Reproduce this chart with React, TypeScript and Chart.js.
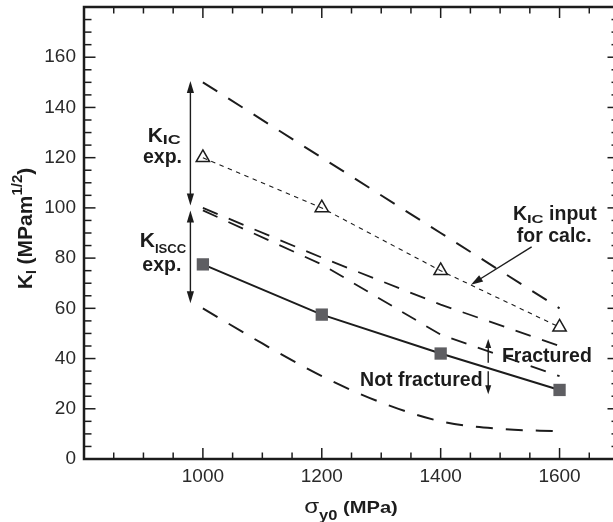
import React, { useEffect, useRef } from "react";
import { Chart, registerables } from "chart.js";

Chart.register(...registerables);

// ---- data ----
const SIGMA_Y0 = [1000, 1200, 1400, 1600];
const KIC_UPPER = [150, 120, 90, 60];
const KIC_INPUT = [120, 100, 75, 52.5];
const KISCC_CALC_A = [100, 80.2, 61.5, 45];
const KISCC_CALC_B = [99, 77.5, 49.5, 33];
const KISCC_EXP = [77.5, 57.5, 42, 27.5];
const LOWER_X = [1000, 1100, 1200, 1300, 1400, 1500, 1600];
const LOWER_BOUND = [60, 46, 33, 22.5, 15, 12, 11];

const X_TICK_LABELS = [1000, 1200, 1400, 1600];
const Y_TICK_LABELS = [0, 20, 40, 60, 80, 100, 120, 140, 160];
const X_RANGE = [800, 1700];
const Y_RANGE = [0, 180];
const X_MAJOR = 200;
const X_MINOR = 50;
const Y_MAJOR = 20;
const Y_MINOR = 5;

// annotations in data coordinates
const RANGE_ARROWS = [
  { x: 979, y1: 150.5, y2: 101 },
  { x: 979, y1: 99, y2: 62 },
];
const SMALL_ARROWS = [
  { x: 1480, from: 38.3, to: 47.8 },
  { x: 1480, from: 34.9, to: 25.8 },
];
const POINTER = { x1: 1553, y1: 84.5, x2: 1451, y2: 69.4 };

const FONT = '"Liberation Sans", Arial, Helvetica, sans-serif';
const INK = "#1c1c1c";

type Seg = { t: string; size: number; bold?: boolean; dy?: number; sx?: number; family?: string };

const LABELS: { segs: Seg[]; x: number; y: number; align: "left" | "center" | "right" }[] = [
  { segs: [{ t: "K", size: 21 }, { t: "IC", size: 12, dy: 2.5, sx: 1.5 }], x: 935, y: 126.3, align: "center" },
  { segs: [{ t: "exp.", size: 19.5 }], x: 932, y: 118, align: "center" },
  { segs: [{ t: "K", size: 21 }, { t: "ISCC", size: 12.5, dy: 6, sx: 1.05 }], x: 933, y: 84.5, align: "center" },
  { segs: [{ t: "exp.", size: 19.5 }], x: 931, y: 74.7, align: "center" },
  {
    segs: [{ t: "K", size: 19.5 }, { t: "IC", size: 11.5, dy: 3, sx: 1.45 }, { t: " input", size: 19.5 }],
    x: 1592, y: 95.2, align: "center",
  },
  { segs: [{ t: "for calc.", size: 19.5 }], x: 1591, y: 86.6, align: "center" },
  { segs: [{ t: "Fractured", size: 19.5 }], x: 1503, y: 38.5, align: "left" },
  { segs: [{ t: "Not fractured", size: 19.5 }], x: 1264.5, y: 28.9, align: "left" },
];

function segFont(s: Seg) {
  return `${s.bold === false ? "" : "bold "}${s.size}px ${s.family || FONT}`;
}

function drawRich(ctx: CanvasRenderingContext2D, segs: Seg[], x: number, y: number, align: string) {
  let total = 0;
  const widths = segs.map((s) => {
    ctx.font = segFont(s);
    const w = ctx.measureText(s.t).width * (s.sx || 1);
    total += w;
    return w;
  });
  let cx = align === "center" ? x - total / 2 : align === "right" ? x - total : x;
  segs.forEach((s, i) => {
    ctx.save();
    ctx.font = segFont(s);
    ctx.textAlign = "left";
    ctx.textBaseline = "alphabetic";
    ctx.translate(cx, y + (s.dy || 0));
    ctx.scale(s.sx || 1, 1);
    ctx.fillText(s.t, 0, 0);
    ctx.restore();
    cx += widths[i];
  });
}

function arrowHead(ctx: CanvasRenderingContext2D, x: number, y: number, ang: number, len: number, hw: number) {
  const c = Math.cos(ang);
  const s = Math.sin(ang);
  ctx.beginPath();
  ctx.moveTo(x, y);
  ctx.lineTo(x - len * c + hw * s, y - len * s - hw * c);
  ctx.lineTo(x - len * c - hw * s, y - len * s + hw * c);
  ctx.closePath();
  ctx.fill();
}

function arrow(
  ctx: CanvasRenderingContext2D,
  x1: number, y1: number, x2: number, y2: number,
  len: number, hw: number, both: boolean
) {
  const ang = Math.atan2(y2 - y1, x2 - x1);
  const c = Math.cos(ang);
  const s = Math.sin(ang);
  ctx.beginPath();
  ctx.moveTo(both ? x1 + c * len * 0.7 : x1, both ? y1 + s * len * 0.7 : y1);
  ctx.lineTo(x2 - c * len * 0.7, y2 - s * len * 0.7);
  ctx.stroke();
  arrowHead(ctx, x2, y2, ang, len, hw);
  if (both) arrowHead(ctx, x1, y1, ang + Math.PI, len, hw);
}

const decorPlugin = {
  id: "decor",
  afterDraw(chart: any) {
    const ctx: CanvasRenderingContext2D = chart.ctx;
    const xs = chart.scales.x;
    const ys = chart.scales.y;
    const { left, right, top, bottom } = chart.chartArea;
    ctx.save();
    ctx.strokeStyle = INK;
    ctx.fillStyle = INK;
    ctx.setLineDash([]);

    // inward ticks
    ctx.lineWidth = 1.5;
    const seg = (a: number, b: number, c: number, d: number) => {
      ctx.beginPath();
      ctx.moveTo(a, b);
      ctx.lineTo(c, d);
      ctx.stroke();
    };
    for (let v = xs.min + X_MINOR; v < xs.max - 1e-6; v += X_MINOR) {
      const px = xs.getPixelForValue(v);
      const major = Math.abs(v % X_MAJOR) < 1e-6;
      const L = major ? 11 : 6.5;
      seg(px, bottom, px, bottom - L);
      seg(px, top, px, top + L);
    }
    for (let v = ys.min + Y_MINOR; v < ys.max - 1e-6; v += Y_MINOR) {
      const py = ys.getPixelForValue(v);
      const major = Math.abs(v % Y_MAJOR) < 1e-6;
      const L = major ? 11.5 : 7.5;
      seg(left, py, left + L, py);
      seg(right, py, right - L, py);
    }

    // frame
    ctx.lineWidth = 2.5;
    ctx.strokeRect(left, top, right - left, bottom - top);

    // annotations
    ctx.lineWidth = 1.4;
    RANGE_ARROWS.forEach((a) => {
      const px = xs.getPixelForValue(a.x);
      arrow(ctx, px, ys.getPixelForValue(a.y2), px, ys.getPixelForValue(a.y1), 12, 3.6, true);
    });
    SMALL_ARROWS.forEach((a) => {
      const px = xs.getPixelForValue(a.x);
      arrow(ctx, px, ys.getPixelForValue(a.from), px, ys.getPixelForValue(a.to), 9, 3, false);
    });
    arrow(
      ctx,
      xs.getPixelForValue(POINTER.x1), ys.getPixelForValue(POINTER.y1),
      xs.getPixelForValue(POINTER.x2), ys.getPixelForValue(POINTER.y2),
      12, 3.8, false
    );

    LABELS.forEach((l) => {
      drawRich(ctx, l.segs, xs.getPixelForValue(l.x), ys.getPixelForValue(l.y), l.align);
    });

    // axis titles
    const midY = (top + bottom) / 2 - 4.5;
    ctx.save();
    ctx.translate(31.7, midY);
    ctx.rotate(-Math.PI / 2);
    drawRich(
      ctx,
      [
        { t: "K", size: 21 },
        { t: "I", size: 14, dy: 4 },
        { t: " (MPam", size: 21 },
        { t: "1/2", size: 15, dy: -10 },
        { t: ")", size: 21 },
      ],
      0, 0, "center"
    );
    ctx.restore();

    drawRich(
      ctx,
      [
        { t: "σ", size: 21, bold: false, sx: 1.15 },
        { t: "y0", size: 15, dy: 7, sx: 1.1 },
        { t: " (MPa)", size: 16.5, sx: 1.22 },
      ],
      (left + right) / 2 - 0.5, 513.3, "center"
    );

    ctx.restore();
  },
};

function pts(xsArr: number[], ysArr: number[]) {
  return xsArr.map((x, i) => ({ x, y: ysArr[i] }));
}

export default function App() {
  const ref = useRef<HTMLCanvasElement>(null);

  useEffect(() => {
    if (!ref.current) return;
    const lineBase = { pointRadius: 0, borderColor: INK, fill: false, tension: 0 };
    const chart = new Chart(ref.current, {
      type: "line",
      data: {
        datasets: [
          { ...lineBase, data: pts(SIGMA_Y0, KIC_UPPER), borderWidth: 2, borderDash: [17, 13] },
          { ...lineBase, data: pts(SIGMA_Y0, KISCC_CALC_A), borderWidth: 1.8, borderDash: [16, 12] },
          { ...lineBase, data: pts(SIGMA_Y0, KISCC_CALC_B), borderWidth: 1.8, borderDash: [16, 12] },
          {
            ...lineBase,
            data: pts(LOWER_X, LOWER_BOUND),
            borderWidth: 2,
            borderDash: [17, 13],
            cubicInterpolationMode: "monotone",
          },
          {
            ...lineBase,
            data: pts(SIGMA_Y0, KIC_INPUT),
            borderWidth: 1.1,
            borderDash: [4.5, 4.5],
            pointStyle: "triangle",
            pointRadius: 7.7,
            pointBorderWidth: 1.5,
            pointBorderColor: INK,
            pointBackgroundColor: "rgba(0,0,0,0)",
          },
          {
            ...lineBase,
            data: pts(SIGMA_Y0, KISCC_EXP),
            borderWidth: 2,
            pointStyle: "rect",
            pointRadius: 8.7,
            pointBorderWidth: 0,
            pointBackgroundColor: "#5e5e62",
          },
        ] as any,
      },
      options: {
        animation: false,
        responsive: false,
        events: [],
        // canvas is 622 wide inside a 613 wide window: the right frame edge is cut off, as in the reference
        layout: { autoPadding: false, padding: { left: 0, top: 7, right: 3, bottom: 0 } },
        plugins: { legend: { display: false }, tooltip: { enabled: false } },
        scales: {
          x: {
            type: "linear",
            min: X_RANGE[0],
            max: X_RANGE[1],
            grid: { display: false, drawTicks: false },
            border: { display: false },
            afterBuildTicks: (s: any) => {
              s.ticks = X_TICK_LABELS.map((v) => ({ value: v }));
            },
            ticks: {
              autoSkip: false,
              maxRotation: 0,
              minRotation: 0,
              padding: 6,
              color: "#2a2a2a",
              font: { family: FONT, size: 19 },
              callback: (v: any) => String(v),
            },
            afterFit: (s: any) => {
              s.height = 63;
              s.paddingLeft = 0;
              s.paddingRight = 0;
            },
          },
          y: {
            type: "linear",
            min: Y_RANGE[0],
            max: Y_RANGE[1],
            grid: { display: false, drawTicks: false },
            border: { display: false },
            afterBuildTicks: (s: any) => {
              s.ticks = Y_TICK_LABELS.map((v) => ({ value: v }));
            },
            ticks: {
              autoSkip: false,
              padding: 8,
              color: "#2a2a2a",
              font: { family: FONT, size: 19 },
              callback: (v: any) => String(v),
            },
            afterFit: (s: any) => {
              s.width = 84;
              s.paddingTop = 0;
              s.paddingBottom = 0;
            },
          },
        },
      } as any,
      plugins: [decorPlugin],
    });
    return () => chart.destroy();
  }, []);

  return (
    <div
      style={{
        position: "fixed",
        left: 0,
        top: 0,
        width: 613,
        height: 522,
        overflow: "hidden",
        background: "#fff",
      }}
    >
      <canvas ref={ref} width={622} height={522} style={{ display: "block", width: 622, height: 522 }} />
    </div>
  );
}
